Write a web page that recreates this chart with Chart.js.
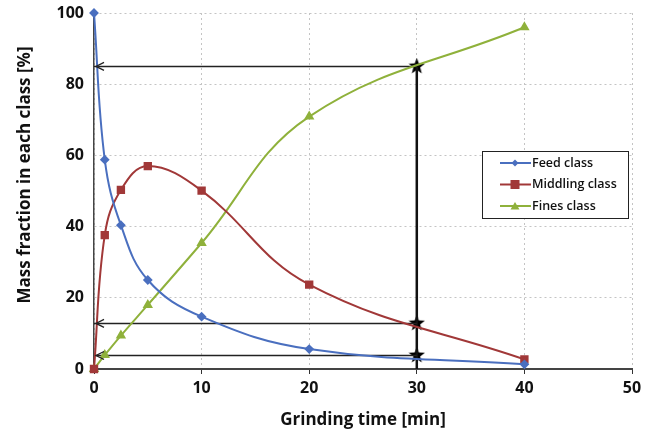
<!DOCTYPE html>
<html>
<head>
<meta charset="utf-8">
<script src="https://cdn.jsdelivr.net/npm/chart.js@4"></script>
<style>
  html, body { margin: 0; padding: 0; background: #fff; }
  #wrap { width: 656px; height: 434px; }
</style>
</head>
<body>
<div id="wrap"><canvas id="chart" width="656" height="434"></canvas></div>
<script>
// grinding time (min) and mass fractions (%)
var times = [0, 1, 2.5, 5, 10, 20, 40];
var feed = [100, 58.8, 40.4, 25, 14.7, 5.6, 1.3];
var middling = [0, 37.6, 50.3, 57, 50.1, 23.7, 2.7];
var fines = [0, 3.9, 9.4, 18, 35.4, 70.9, 96];

// read-off guide at t = 30 min
var readTime = 30;
var readValues = [85, 12.8, 3.8];

var xTicks = [0, 10, 20, 30, 40, 50];
var yTicks = [0, 20, 40, 60, 80, 100];
var yTitle = 'Mass fraction in each class [%]';

function pts(xs, ys) {
  return xs.map(function (x, i) { return { x: x, y: ys[i] }; });
}

// filled black star used as point style
function makeStar(size) {
  var c = document.createElement('canvas');
  c.width = size; c.height = size;
  var g = c.getContext('2d');
  var cx = size / 2, cy = size / 2, R = size / 2, r = R * 0.42;
  g.beginPath();
  for (var i = 0; i < 10; i++) {
    var a = -Math.PI / 2 + i * Math.PI / 5;
    var rr = i % 2 === 0 ? R : r;
    g.lineTo(cx + rr * Math.cos(a), cy + rr * Math.sin(a));
  }
  g.closePath();
  g.fillStyle = '#000';
  g.fill();
  return c;
}
var star = makeStar(17);

var datasets = [
  { label: 'Feed class', data: pts(times, feed), borderColor: '#4a6fbf', backgroundColor: '#4a6fbf',
    pointStyle: 'rectRot', pointRadius: 3.5, borderWidth: 2, tension: 0.4, clip: 6 },
  { label: 'Middling class', data: pts(times, middling), borderColor: '#a13838', backgroundColor: '#a13838',
    pointStyle: 'rect', pointRadius: 4.5, borderWidth: 2, tension: 0.4, clip: 6 },
  { label: 'Fines class', data: pts(times, fines), borderColor: '#8fb13b', backgroundColor: '#8fb13b',
    pointStyle: 'triangle', pointRadius: 4, borderWidth: 2, tension: 0.4, clip: 6 }
];

// horizontal read-off lines
readValues.forEach(function (v) {
  datasets.push({ label: 'guide', data: [{ x: readTime, y: v }, { x: 0, y: v }],
    borderColor: '#222', borderWidth: 1.5, pointRadius: 0, tension: 0 });
});
// vertical line at t = 30
datasets.push({ label: 'guide', data: [{ x: readTime, y: 0 }, { x: readTime, y: readValues[0] }],
  borderColor: '#111', borderWidth: 2.5, pointRadius: 0, tension: 0 });
// stars
datasets.push({ label: 'guide', data: readValues.map(function (v) { return { x: readTime, y: v }; }),
  showLine: false, pointStyle: star, pointRadius: 8 });

var arrowPlugin = {
  id: 'arrows',
  afterDatasetsDraw: function (chart) {
    var ctx = chart.ctx, xs = chart.scales.x, ys = chart.scales.y;
    var x0 = xs.getPixelForValue(0);
    ctx.save();
    ctx.strokeStyle = '#222';
    ctx.lineWidth = 1.3;
    readValues.forEach(function (v) {
      var y = ys.getPixelForValue(v);
      ctx.beginPath();
      ctx.moveTo(x0 + 10, y - 4);
      ctx.lineTo(x0 + 2, y);
      ctx.lineTo(x0 + 10, y + 4);
      ctx.stroke();
    });
    ctx.restore();
  }
};

var legendPlugin = {
  id: 'boxLegend',
  afterDraw: function (chart) {
    var ctx = chart.ctx, a = chart.chartArea;
    // y axis title, sitting a bit above the middle as in the original
    ctx.save();
    ctx.translate(25, (a.top + a.bottom) / 2 - 16);
    ctx.rotate(-Math.PI / 2);
    ctx.font = '700 17px "Open Sans"';
    ctx.fillStyle = '#111';
    ctx.textAlign = 'center';
    ctx.textBaseline = 'middle';
    ctx.fillText(yTitle, 0, 0);
    ctx.restore();

    var left = a.right - 150, top = a.top + 138, w = 146, h = 67;
    ctx.save();
    ctx.fillStyle = '#fff';
    ctx.fillRect(left, top, w, h);
    ctx.strokeStyle = '#222';
    ctx.lineWidth = 1;
    ctx.strokeRect(left + 0.5, top + 0.5, w, h);
    ctx.font = '600 12.5px "Open Sans"';
    ctx.textBaseline = 'middle';
    for (var i = 0; i < 3; i++) {
      var ds = chart.data.datasets[i];
      var y = top + 12 + i * 21.5;
      ctx.strokeStyle = ds.borderColor;
      ctx.lineWidth = 2;
      ctx.beginPath();
      ctx.moveTo(left + 18, y);
      ctx.lineTo(left + 49, y);
      ctx.stroke();
      ctx.fillStyle = ds.backgroundColor;
      var cx = left + 33;
      ctx.beginPath();
      if (i === 0) {
        ctx.moveTo(cx, y - 3.5); ctx.lineTo(cx + 3.5, y); ctx.lineTo(cx, y + 3.5); ctx.lineTo(cx - 3.5, y);
      } else if (i === 1) {
        ctx.rect(cx - 4.5, y - 4.5, 9, 9);
      } else {
        ctx.moveTo(cx, y - 4); ctx.lineTo(cx + 4.5, y + 3.5); ctx.lineTo(cx - 4.5, y + 3.5);
      }
      ctx.closePath();
      ctx.fill();
      ctx.fillStyle = '#111';
      ctx.fillText(ds.label, left + 50, y);
    }
    ctx.restore();
  }
};

var tickFont = { family: '"Open Sans"', size: 16, weight: '700' };

new Chart(document.getElementById('chart').getContext('2d'), {
  type: 'scatter',
  data: { datasets: datasets },
  plugins: [arrowPlugin, legendPlugin],
  options: {
    responsive: false,
    animation: false,
    showLine: true,
    layout: { padding: { top: 13, right: 24, left: 0, bottom: 0 } },
    plugins: { legend: { display: false }, tooltip: { enabled: false } },
    scales: {
      x: {
        type: 'linear', min: 0, max: 50,
        afterBuildTicks: function (s) { s.ticks = xTicks.map(function (v) { return { value: v }; }); },
        afterFit: function (s) { s.height = 65; },
        ticks: { color: '#111', font: tickFont, padding: 5 },
        grid: { color: '#c4c4c4', tickLength: 5, tickColor: '#333', tickBorderDash: [] },
        border: { display: true, color: '#444', width: 2, dash: [2, 3] },
        title: { display: true, text: 'Grinding time [min]', color: '#111',
          font: { family: '"Open Sans"', size: 17, weight: '700' }, padding: { top: 6 } }
      },
      y: {
        type: 'linear', min: 0, max: 100,
        afterBuildTicks: function (s) { s.ticks = yTicks.map(function (v) { return { value: v }; }); },
        afterFit: function (s) { s.width = 94; s.paddingTop = 0; s.paddingBottom = 0; },
        ticks: { color: '#111', font: tickFont, padding: 10 },
        grid: { color: '#c4c4c4', tickLength: 0 },
        border: { display: true, color: '#444', width: 1.5, dash: [2, 3] },
        title: { display: false }
      }
    }
  }
});
</script>
</body>
</html>
